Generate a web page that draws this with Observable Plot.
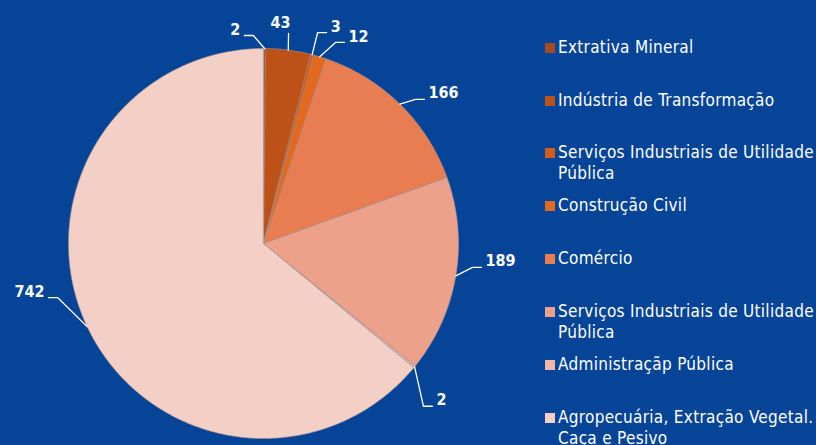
<!DOCTYPE html>
<html><head><meta charset="utf-8">
<script src="https://cdn.jsdelivr.net/npm/d3@7"></script>
<script src="https://cdn.jsdelivr.net/npm/@observablehq/plot@0.6"></script>
<style>
html,body{margin:0;padding:0;background:#054497;overflow:hidden;}
#wrap{position:relative;width:816px;height:445px;overflow:hidden;}
#legend{position:absolute;left:545px;top:0;width:280px;font-family:"DejaVu Sans Condensed","DejaVu Sans",sans-serif;font-size:17px;color:#fff;}
.item{position:absolute;left:0;display:flex;align-items:flex-start;line-height:21px;width:280px;letter-spacing:0.3px;}
.sw{width:10px;height:10px;margin-top:6px;margin-right:3px;flex:none;}
</style></head><body><div id="wrap"><div id="legend"></div></div>
<script>
// ---- data ----
const categories = [
  "Extrativa Mineral",
  "Indústria de Transformação",
  "Serviços Industriais de Utilidade Pública",
  "Construção Civil",
  "Comércio",
  "Serviços Industriais de Utilidade Pública",
  "Administraçãp Pública",
  "Agropecuária, Extração Vegetal. Caça e Pesivo"
];
const values = [2, 43, 3, 12, 166, 189, 2, 742];
const colors = ["#a64b1f", "#bd5219", "#d25d1a", "#e2691d", "#e97d52", "#eda18a", "#f0b8a8", "#f3cfc5"];

// ---- layout (label leader elbows: angle in degrees, radius relative to pie radius) ----
const labelLayout = [
  {angle: -2.8, r: 1.068, side: "left"},
  {angle: 6.8, r: 1.085, side: "top"},
  {angle: 14.4, r: 1.117, side: "right"},
  {angle: 19.7, r: 1.095, side: "right"},
  {angle: 46.5, r: 1.074, side: "right"},
  {angle: 96.5, r: 1.079, side: "right"},
  {angle: 135.5, r: 1.17, side: "right"},
  {angle: 255.3, r: 1.092, side: "left"}
];

const R = 195, CX = 263, CY = 243, W = 816, H = 445;
const px = 1 / R;
const arcs = d3.pie().sort(null).value(d => d)(values);

// slice polygons
const slicePts = [];
arcs.forEach((a, i) => {
  const n = Math.max(2, Math.ceil((a.endAngle - a.startAngle) / (Math.PI / 360)));
  slicePts.push({i, x: 0, y: 0, fill: colors[i]});
  for (let k = 0; k <= n; k++) {
    const t = a.startAngle + (a.endAngle - a.startAngle) * k / n;
    slicePts.push({i, x: Math.sin(t), y: Math.cos(t), fill: colors[i]});
  }
});

// leaders and labels
const leaderPts = [];
const labels = [];
arcs.forEach((a, i) => {
  const L = labelLayout[i];
  const mid = (a.startAngle + a.endAngle) / 2;
  const ea = L.angle * Math.PI / 180;
  const ex = Math.sin(ea) * L.r, ey = Math.cos(ea) * L.r;
  leaderPts.push({i, x: Math.sin(mid), y: Math.cos(mid)});
  leaderPts.push({i, x: ex, y: ey});
  if (L.side === "top") {
    labels.push({x: ex - 8 * px, y: ey + 11 * px, text: String(values[i]), side: "middle"});
  } else {
    const s = L.side === "right" ? 1 : -1;
    const hx = ex + s * 9 * px;
    leaderPts.push({i, x: hx, y: ey});
    labels.push({x: hx + s * 4 * px, y: ey + 6 * px, text: String(values[i]), side: L.side === "right" ? "start" : "end"});
  }
});

const font = "DejaVu Sans Condensed, DejaVu Sans, sans-serif";
const textOpts = (anchor) => ({x: "x", y: "y", text: "text", textAnchor: anchor, fill: "white", fontWeight: "bold", fontSize: 16, fontFamily: font});

const chart = Plot.plot({
  width: W, height: H, margin: 0,
  style: {background: "transparent", overflow: "visible"},
  x: {domain: [-CX / R, (W - CX) / R], axis: null},
  y: {domain: [-(H - CY) / R, CY / R], axis: null},
  color: {type: "identity"},
  marks: [
    Plot.line(slicePts, {x: "x", y: "y", z: "i", fill: "fill", stroke: "#a8928e", strokeWidth: 0.6, curve: "linear-closed"}),
    Plot.line(leaderPts, {x: "x", y: "y", z: "i", stroke: "white", strokeWidth: 1.3, curve: "linear"}),
    Plot.text(labels.filter(d => d.side === "start"), textOpts("start")),
    Plot.text(labels.filter(d => d.side === "end"), textOpts("end")),
    Plot.text(labels.filter(d => d.side === "middle"), textOpts("middle"))
  ]
});
document.getElementById("wrap").prepend(chart);

// legend
const legend = document.getElementById("legend");
categories.forEach((c, i) => {
  const item = document.createElement("div");
  item.className = "item";
  item.style.top = (36.6 + i * 52.9) + "px";
  const sw = document.createElement("div");
  sw.className = "sw";
  sw.style.background = colors[i];
  const tx = document.createElement("div");
  tx.textContent = c;
  item.appendChild(sw);
  item.appendChild(tx);
  legend.appendChild(item);
});
</script>
</body></html>
